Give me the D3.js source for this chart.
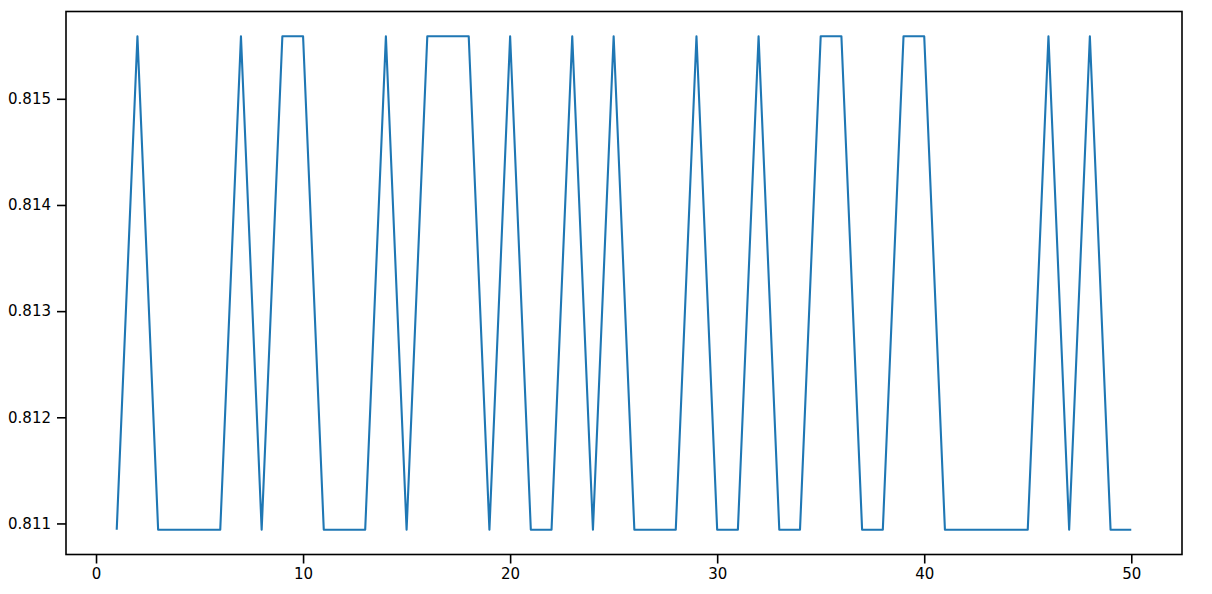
<!DOCTYPE html>
<html>
<head>
<meta charset="utf-8">
<script src="https://cdn.jsdelivr.net/npm/d3@7"></script>
<style>
  html, body { margin: 0; padding: 0; background: #fff; }
  svg { display: block; }
  .tick text { font-family: "DejaVu Sans", sans-serif; font-size: 15px; fill: #000; }
</style>
</head>
<body>
<svg id="chart" width="1212" height="594"></svg>
<script>
const LOW = 0.81094, HIGH = 0.81559;
const xValues = d3.range(1, 51);
// 1 = high, 0 = low, for x = 1..50
const pattern = [0,1,0,0,0,0,1,0,1,1,
                 0,0,0,1,0,1,1,1,0,1,
                 0,0,1,0,1,0,0,0,1,0,
                 0,1,0,0,1,1,0,0,1,1,
                 0,0,0,0,0,1,0,1,0,0];
const yValues = pattern.map(p => p ? HIGH : LOW);
const xTicks = [0, 10, 20, 30, 40, 50];
const yTicks = [0.811, 0.812, 0.813, 0.814, 0.815];

const svg = d3.select("#chart");
const mLeft = 66, mRight = 1182, mTop = 11.5, mBottom = 554.5;

const xMin = d3.min(xValues), xMax = d3.max(xValues);
const xPad = (xMax - xMin) * 0.05;
const yMin = d3.min(yValues), yMax = d3.max(yValues);
const yPad = (yMax - yMin) * 0.05;

const x = d3.scaleLinear().domain([xMin - xPad, xMax + xPad]).range([mLeft, mRight]);
const y = d3.scaleLinear().domain([yMin - yPad, yMax + yPad]).range([mBottom, mTop]);

const data = xValues.map((v, i) => [v, yValues[i]]);

svg.append("path")
  .datum(data)
  .attr("fill", "none")
  .attr("stroke", "#1f77b4")
  .attr("stroke-width", 2.1)
  .attr("stroke-linejoin", "round")
  .attr("d", d3.line().x(d => x(d[0])).y(d => y(d[1])));

const xAxis = svg.append("g")
  .attr("transform", `translate(0,${mBottom})`)
  .call(d3.axisBottom(x).tickValues(xTicks).tickFormat(d3.format("d")).tickSize(9).tickPadding(5));
const yAxis = svg.append("g")
  .attr("transform", `translate(${mLeft},0)`)
  .call(d3.axisLeft(y).tickValues(yTicks).tickFormat(d3.format(".3f")).tickSize(9).tickPadding(6));

[xAxis, yAxis].forEach(a => {
  a.select(".domain").remove();
  a.selectAll(".tick line").attr("stroke", "#000").attr("stroke-width", 1.6);
});

svg.append("rect")
  .attr("x", mLeft).attr("y", mTop)
  .attr("width", mRight - mLeft).attr("height", mBottom - mTop)
  .attr("fill", "none").attr("stroke", "#000").attr("stroke-width", 1.6);
</script>
</body>
</html>
